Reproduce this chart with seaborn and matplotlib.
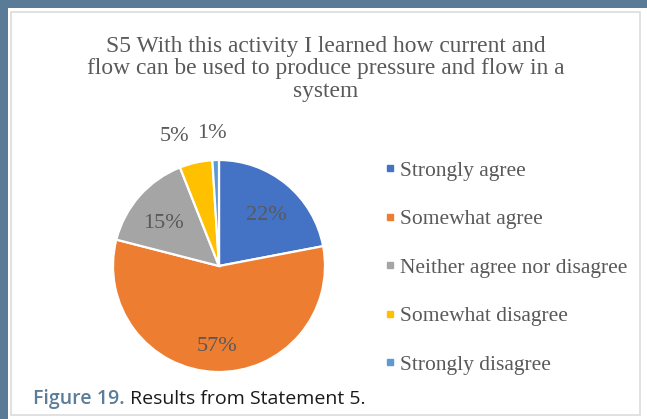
import numpy as np
import matplotlib
matplotlib.use("Agg")
import matplotlib.pyplot as plt
from matplotlib.patches import Rectangle
from matplotlib.lines import Line2D
import seaborn as sns

# Survey responses for statement S5 (percent of respondents)
categories = ["Strongly agree", "Somewhat agree", "Neither agree nor disagree",
              "Somewhat disagree", "Strongly disagree"]
shares = [22, 57, 15, 5, 1]
slice_colors = ["#4472C4", "#ED7D31", "#A5A5A5", "#FFC000", "#5B9BD5"]
title_lines = ["S5 With this activity I learned how current and",
               "flow can be used to produce pressure and flow in a",
               "system"]
caption_label = "Figure 19."
caption_text = " Results from Statement 5."

sns.set_theme(style="white")
plt.rcParams["font.family"] = ["Liberation Serif", "DejaVu Serif"]

W, H = 647, 419
fig = plt.figure(figsize=(W / 100, H / 100), dpi=100)
fig.patch.set_facecolor("white")

# page frame: slate band on the top and left, light chart border
frame_blue = "#5a7b97"
fig.patches.append(Rectangle((0, 1 - 8 / H), 1, 8 / H, transform=fig.transFigure,
                             facecolor=frame_blue, edgecolor="none", zorder=-2))
fig.patches.append(Rectangle((0, 0), 8 / W, 1, transform=fig.transFigure,
                             facecolor=frame_blue, edgecolor="none", zorder=-2))
fig.patches.append(Rectangle((11 / W, 4 / H), 629 / W, (H - 16) / H,
                             transform=fig.transFigure, facecolor="white",
                             edgecolor="#dcdcdc", linewidth=1.2, zorder=-1))

# pie axes, square in pixels
cx, cy, r = 219, 266, 106
ax = fig.add_axes([(cx - r) / W, (H - cy - r) / H, 2 * r / W, 2 * r / H])
ax.set_zorder(2)
ax.patch.set_alpha(0)
palette = sns.color_palette(slice_colors)
wedges, _ = ax.pie(shares, colors=palette, startangle=90, counterclock=False,
                   radius=1.0, wedgeprops=dict(edgecolor="white", linewidth=1.6))
ax.set_xlim(-1, 1)
ax.set_ylim(-1, 1)
ax.set_aspect("equal")
ax.axis("off")

label_color = "#595959"
for w, v in zip(wedges, shares):
    mid = np.deg2rad((w.theta1 + w.theta2) / 2)
    if v >= 10:
        d = 0.70
        x, y = d * np.cos(mid), d * np.sin(mid) - 0.06
    else:
        # small slices get their labels above the pie, spread apart
        d = 1.25
        x, y = d * np.cos(mid), d * np.sin(mid)
        x += -0.15 if v == 5 else -0.027
    ax.text(x, y, f"{v}%", ha="center", va="center", fontsize=16,
            color=label_color, clip_on=False)

# title
for i, line in enumerate(title_lines):
    fig.text(326 / W, 1 - (46 + 22.5 * i) / H, line, ha="center", va="center",
             fontsize=16.9, color=label_color)

# legend
handles = [Line2D([0], [0], marker="s", linestyle="none", markersize=4.2,
                  markerfacecolor=c, markeredgecolor=c) for c in palette]
fig.legend(handles, categories, loc="upper left",
           bbox_to_anchor=(374 / W, 1 - 150 / H), frameon=False,
           fontsize=15.5, labelcolor=label_color, handlelength=0.5,
           handletextpad=0.2, labelspacing=1.32, borderpad=0)

# caption
t = fig.text(33 / W, 1 - 399 / H, caption_label, ha="left", va="center",
             fontsize=14, color="#5b7d9a", fontweight="semibold",
             family=["Open Sans", "DejaVu Sans"])
fig.canvas.draw()
bb = t.get_window_extent()
fig.text(bb.x1 / W, 1 - 399 / H, caption_text, ha="left", va="center",
         fontsize=14, color="#1a1a1a", family=["Open Sans", "DejaVu Sans"])

fig.savefig("out.png", dpi=100)
